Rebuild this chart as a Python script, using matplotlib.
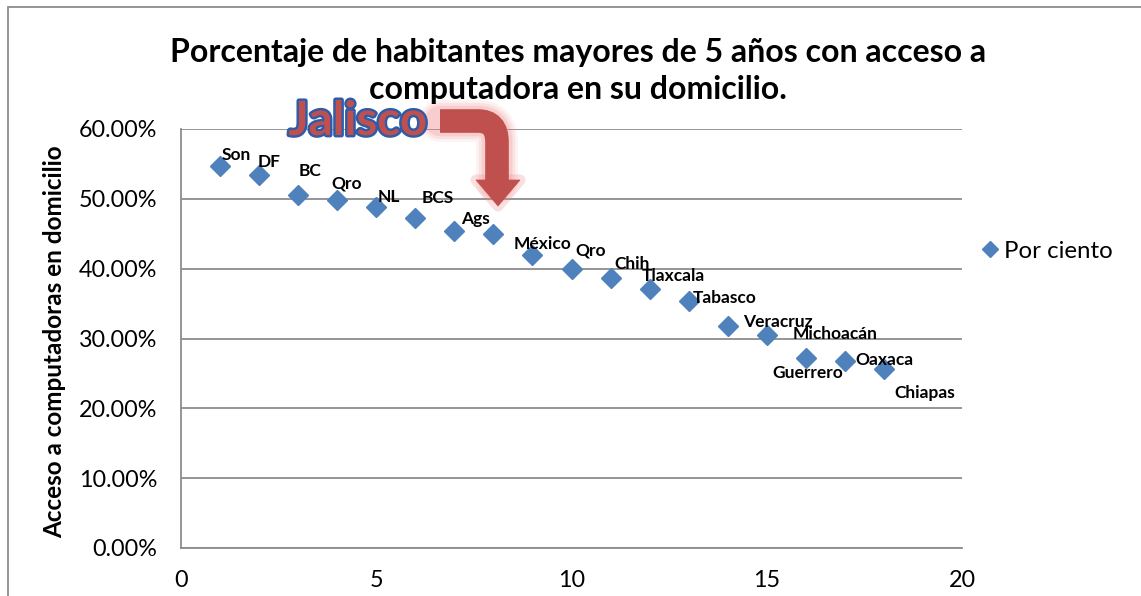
import matplotlib
matplotlib.use("Agg")
import matplotlib.pyplot as plt
from matplotlib.path import Path
from matplotlib.patches import PathPatch, Polygon, Rectangle
import matplotlib.patheffects as pe
from matplotlib.ticker import PercentFormatter

# ---------------- data ----------------
posicion = list(range(1, 19))
por_ciento = [0.5465, 0.5340, 0.5055, 0.4980, 0.4885, 0.4725, 0.4545, 0.4495,
              0.4195, 0.3995, 0.3865, 0.3710, 0.3530, 0.3180, 0.3055, 0.2720,
              0.2680, 0.2565]
etiquetas = ["Son", "DF", "BC", "Qro", "NL", "BCS", "Ags", "", "México", "Qro",
             "Chih", "Tlaxcala", "Tabasco", "Veracruz", "Michoacán", "Guerrero",
             "Oaxaca", "Chiapas"]
x_ticks = [0, 5, 10, 15, 20]
y_ticks = [0.0, 0.1, 0.2, 0.3, 0.4, 0.5, 0.6]
titulo = "Porcentaje de habitantes mayores de 5 años con acceso a\ncomputadora en su domicilio."
eje_y = "Acceso a computadoras en domicilio"
serie = "Por ciento"
destacado = "Jalisco"

# label offsets in pixels (dx to left edge, dy upward) -- styling only
offsets_px = [(2, 11), (-1, 13), (0, 24), (-6, 17), (1, 10), (6, 20), (7, 12), (0, 0),
              (-19, 11), (4, 19), (4, 14), (-8, 13), (4, 3), (15, 4), (26, 1),
              (-33, -15), (11, 1), (10, -24)]

W, H = 1141, 596
plt.rcParams['font.family'] = ['Lato', 'DejaVu Sans']
fig = plt.figure(figsize=(W / 100, H / 100), dpi=100)

def fx(px):
    return px / W

def fy(py):
    return 1 - py / H

# outer chart border (extends past right and bottom edges)
fig.patches.append(Rectangle((fx(8), fy(640)), fx(1250) - fx(8), (640 - 7) / H,
                             transform=fig.transFigure, fill=False,
                             edgecolor='#8c8c8c', linewidth=1.3))

ax = fig.add_axes([fx(181), fy(548), fx(962) - fx(181), fy(129) - fy(548)])
ax.set_xlim(0, 20)
ax.set_ylim(0, 0.6)
ax.set_xticks(x_ticks)
ax.set_yticks(y_ticks)
ax.yaxis.set_major_formatter(PercentFormatter(1.0, decimals=2))
ax.grid(axis='y', color='#8c8c8c', linewidth=1.3)
ax.set_axisbelow(True)
for s in ['top', 'right']:
    ax.spines[s].set_visible(False)
for s in ['left', 'bottom']:
    ax.spines[s].set_color('#8c8c8c')
    ax.spines[s].set_linewidth(1.3)
ax.tick_params(axis='both', length=0, labelsize=16.8, colors='black')
ax.tick_params(axis='y', pad=17)
ax.tick_params(axis='x', pad=16)

ax.plot(posicion, por_ciento, linestyle='none', marker='D', markersize=10,
        color='#4F81BD', markeredgecolor='#4F81BD', label=serie, zorder=3)

for xv, yv, lab, (dx, dy) in zip(posicion, por_ciento, etiquetas, offsets_px):
    if lab:
        ax.annotate(lab, (xv, yv), xytext=(dx * 0.72, dy * 0.72), textcoords='offset points',
                    ha='left', va='center', fontsize=12.5, fontweight='bold', zorder=4)

fig.text(fx(55), fy(342), eje_y, rotation=90, ha='center', va='center',
         fontsize=17.5, fontweight='bold')

fig.text(fx(578), fy(71), titulo, ha='center', va='center', fontsize=23,
         fontweight='bold', linespacing=1.3)

leg = fig.legend(loc='center left', bbox_to_anchor=(fx(954), fy(251)), frameon=False,
                 fontsize=17.3, handletextpad=0.0, handlelength=1.2, markerscale=0.8)

# arrow (decoration) in figure pixel coordinates
verts = [(fx(440), fy(121)), (fx(478), fy(121)), (fx(497), fy(121)), (fx(497), fy(142)),
         (fx(497), fy(182))]
codes = [Path.MOVETO, Path.LINETO, Path.CURVE3, Path.CURVE3, Path.LINETO]
head = [(fx(476), fy(180)), (fx(520), fy(180)), (fx(498), fy(206))]
for lw, a in [(30, 0.10), (26, 0.15), (22, 0.2)]:
    fig.patches.append(PathPatch(Path(verts, codes), transform=fig.transFigure, fill=False,
                                 edgecolor='#f08080', linewidth=lw, alpha=a, capstyle='round'))
fig.patches.append(Polygon(head, closed=True, transform=fig.transFigure, facecolor='#f08080',
                           edgecolor='#f08080', linewidth=8, alpha=0.25, joinstyle='round'))
fig.patches.append(PathPatch(Path(verts, codes), transform=fig.transFigure, fill=False,
                             edgecolor='#C0504D', linewidth=17, capstyle='butt'))
fig.patches.append(Polygon(head, closed=True, transform=fig.transFigure, facecolor='#C0504D',
                           edgecolor='#C0504D', linewidth=0.5))

fig.text(fx(358), fy(121), destacado, ha='center', va='center', fontsize=34,
         fontweight='bold', color='#C0504D',
         path_effects=[pe.withStroke(linewidth=3.5, foreground='#2E5CA8')])

fig.savefig("out.png", dpi=100)
